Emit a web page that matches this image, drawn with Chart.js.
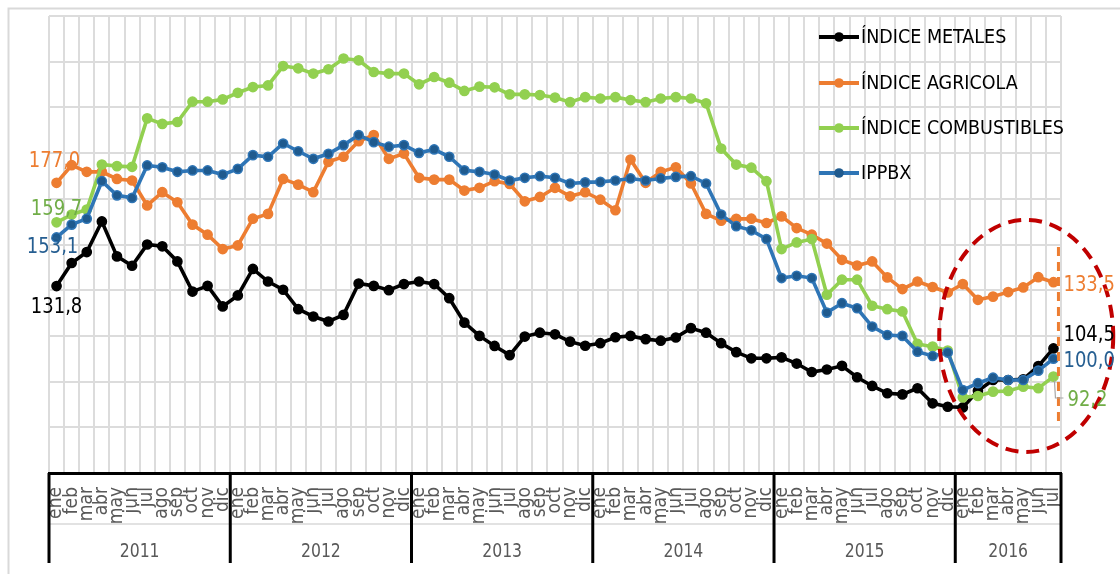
<!DOCTYPE html>
<html>
<head>
<meta charset="utf-8">
<script src="https://cdn.jsdelivr.net/npm/chart.js@4.4.1/dist/chart.umd.min.js"></script>
<style>
  html, body { margin: 0; padding: 0; background: #ffffff; }
  #wrap { width: 1120px; height: 574px; position: relative; }
</style>
</head>
<body>
<div id="wrap"><canvas id="c" width="1120" height="574"></canvas></div>
<script>
// ---------- DATA ----------
const months = [
  'ene','feb','mar','abr','may','jun','jul','ago','sep','oct','nov','dic',
  'ene','feb','mar','abr','may','jun','jul','ago','sep','oct','nov','dic',
  'ene','feb','mar','abr','may','jun','jul','ago','sep','oct','nov','dic',
  'ene','feb','mar','abr','may','jun','jul','ago','sep','oct','nov','dic',
  'ene','feb','mar','abr','may','jun','jul','ago','sep','oct','nov','dic',
  'ene','feb','mar','abr','may','jun','jul'
];
const years = ['2011','2012','2013','2014','2015','2016'];
const yearSpans = [12, 12, 12, 12, 12, 7];

const metales = [
  131.8,141.9,146.7,160.1,144.8,140.7,150.0,149.2,142.6,129.4,131.9,122.9,
  127.7,139.3,133.8,130.2,121.7,118.5,116.3,119.2,132.9,131.9,130.0,132.7,
  133.8,132.7,126.5,115.8,110.0,105.6,101.6,109.7,111.4,110.7,107.5,105.7,
  106.8,109.4,110.0,108.6,107.9,109.3,113.4,111.4,106.8,102.9,100.2,100.2,
  100.6,97.9,94.2,95.3,96.9,91.9,88.1,84.9,84.4,87.1,80.5,79.0,
  78.7,86.0,90.7,90.7,91.0,96.8,104.5
];
const agricola = [
  177.0,184.7,181.8,181.8,178.7,178.0,167.1,172.9,168.5,158.7,154.3,148.0,
  149.6,161.3,163.4,178.7,176.2,172.9,186.2,188.4,195.2,197.9,187.5,189.8,
  179.2,178.4,178.4,173.6,174.8,177.7,176.5,168.9,170.8,174.8,171.1,172.9,
  169.6,165.0,187.2,177.0,181.8,183.8,176.7,163.4,160.4,161.2,161.3,159.4,
  162.3,157.2,154.3,150.4,143.3,140.8,142.6,135.6,130.5,133.8,131.4,129.0,
  132.7,125.8,127.2,129.2,131.2,135.7,133.5
];
const combustibles = [
  159.7,163.1,165.3,185.0,184.3,184.0,205.2,202.8,203.6,212.5,212.5,213.5,
  216.4,218.9,219.6,228.1,227.1,224.8,226.7,231.4,230.6,225.5,224.8,224.8,
  220.1,223.3,220.8,217.2,219.1,218.8,215.7,215.7,215.4,214.3,212.3,214.5,
  213.9,214.5,213.2,212.3,213.9,214.5,213.9,211.8,192.0,185.0,183.6,177.7,
  148.0,150.9,152.4,128.0,134.6,134.6,123.2,121.7,120.7,106.5,105.3,103.6,
  83.1,83.7,85.6,85.9,87.8,87.1,92.2
];
const ippbx = [
  153.1,158.7,161.3,177.7,171.5,170.4,184.6,183.8,181.8,182.4,182.4,180.6,
  183.1,189.1,188.4,194.2,190.8,187.5,189.7,193.5,197.9,194.8,192.8,193.5,
  190.1,191.6,188.4,182.5,181.8,180.6,178.0,179.2,179.9,179.2,176.7,177.2,
  177.4,178.0,178.9,178.0,178.9,179.6,179.9,176.7,163.1,158.0,156.2,152.4,
  135.3,136.3,135.3,120.2,124.3,122.1,114.1,110.4,110.0,103.1,101.2,102.7,
  86.3,89.3,91.7,90.7,90.7,94.8,100.0
];
const seriesNames = ['ÍNDICE METALES', 'ÍNDICE AGRICOLA', 'ÍNDICE COMBUSTIBLES', 'IPPBX'];
const firstLabels = ['131,8', '177,0', '159,7', '153,1'];
const lastLabels  = ['104,5', '133,5', '92,2', '100,0'];
const yMin = 50, yMax = 250, yStep = 20;

// ---------- STYLE ----------
const FONT = '"DejaVu Sans Condensed", "DejaVu Sans", sans-serif';
const lineColors  = ['#000000', '#ED7D31', '#92D050', '#2E75B6'];
const pointFills  = ['#000000', '#ED7D31', '#92D050', '#1F5A8E'];
const labelColors = ['#000000', '#ED7D31', '#70AD47', '#255E91'];

const seriesData = [metales, agricola, combustibles, ippbx];

const datasets = seriesData.map((d, i) => ({
  label: seriesNames[i],
  data: d,
  borderColor: lineColors[i],
  backgroundColor: lineColors[i],
  pointBackgroundColor: pointFills[i],
  pointBorderColor: lineColors[i],
  pointBorderWidth: 1.5,
  pointRadius: 4.6,
  borderWidth: 3.6,
  tension: 0,
  fill: false,
  order: 4 - i
}));

function scaledText(ctx, text, x, y, sx, align) {
  ctx.save();
  ctx.translate(x, y);
  ctx.scale(sx, 1);
  ctx.textAlign = align;
  ctx.fillText(text, 0, 0);
  ctx.restore();
}

const deco = {
  id: 'deco',
  beforeDraw(chart) {
    const ctx = chart.ctx;
    ctx.save();
    ctx.fillStyle = '#ffffff';
    ctx.fillRect(0, 0, chart.width, chart.height);
    ctx.strokeStyle = '#D9D9D9';
    ctx.lineWidth = 2;
    ctx.strokeRect(8.5, 8.5, 2000, 2000);
    ctx.restore();
  },
  afterDatasetsDraw(chart) {
    const ctx = chart.ctx;
    const xs = chart.scales.x, ys = chart.scales.y;
    const area = chart.chartArea;
    const cw = xs.getPixelForValue(1) - xs.getPixelForValue(0);
    const n = months.length;
    ctx.save();

    // orange dashed vertical line
    ctx.strokeStyle = '#ED7D31';
    ctx.lineWidth = 3;
    ctx.setLineDash([9, 6]);
    const xo = xs.getPixelForValue(n - 1) + 5;
    ctx.beginPath();
    ctx.moveTo(xo, 247);
    ctx.lineTo(xo, 421);
    ctx.stroke();

    // red dashed ellipse
    ctx.strokeStyle = '#C00000';
    ctx.lineWidth = 4;
    ctx.setLineDash([13, 8]);
    ctx.beginPath();
    ctx.ellipse(xs.getPixelForValue(64) + 3, ys.getPixelForValue(110), 87, 116, 0, 0, Math.PI * 2);
    ctx.stroke();
    ctx.setLineDash([]);

    // gray leader line for last green label
    const lx = xs.getPixelForValue(n - 1);
    ctx.strokeStyle = '#A6A6A6';
    ctx.lineWidth = 1.2;
    ctx.beginPath();
    ctx.moveTo(lx + 1, ys.getPixelForValue(combustibles[n - 1]) + 4);
    ctx.lineTo(lx + 2, 398);
    ctx.lineTo(lx + 10, 398);
    ctx.stroke();

    // data labels
    ctx.font = '21.5px ' + FONT;
    ctx.textBaseline = 'middle';
    const x0 = xs.getPixelForValue(0);
    const firstOff = [[0, 21], [-2, -21], [0, -13], [-4, 10]];
    for (let i = 0; i < 4; i++) {
      ctx.fillStyle = labelColors[i];
      scaledText(ctx, firstLabels[i], x0 + firstOff[i][0], ys.getPixelForValue(seriesData[i][0]) + firstOff[i][1], 0.93, 'center');
    }
    const lastOff = [-13, 3, 24, 3];
    const lastDx = [10, 10, 14, 10];
    for (let i = 0; i < 4; i++) {
      ctx.fillStyle = labelColors[i];
      scaledText(ctx, lastLabels[i], lx + lastDx[i], ys.getPixelForValue(seriesData[i][n - 1]) + lastOff[i], 0.93, 'left');
    }

    // legend
    const legY = [37, 83, 128, 173];
    ctx.font = '19.5px ' + FONT;
    ctx.textAlign = 'left';
    ctx.textBaseline = 'middle';
    for (let i = 0; i < 4; i++) {
      ctx.strokeStyle = lineColors[i];
      ctx.lineWidth = 4;
      ctx.beginPath();
      ctx.moveTo(819, legY[i]);
      ctx.lineTo(859, legY[i]);
      ctx.stroke();
      ctx.fillStyle = pointFills[i];
      ctx.beginPath();
      ctx.arc(839, legY[i], 4.8, 0, Math.PI * 2);
      ctx.fill();
      ctx.fillStyle = '#000000';
      ctx.fillText(seriesNames[i], 861, legY[i] + 1);
    }

    // faint divider between month row and year row
    ctx.strokeStyle = '#D9D9D9';
    ctx.lineWidth = 1.5;
    ctx.beginPath();
    ctx.moveTo(area.left, 524);
    ctx.lineTo(area.right, 524);
    ctx.stroke();

    // year separators and labels
    ctx.strokeStyle = '#000000';
    ctx.lineWidth = 3;
    let start = 0;
    const yTop = area.bottom, yBot = 563;
    const boundary = (idx) => idx >= n ? area.right : xs.getPixelForValue(idx) - cw / 2;
    ctx.beginPath();
    ctx.moveTo(boundary(0), yTop);
    ctx.lineTo(boundary(0), yBot);
    ctx.stroke();
    ctx.font = '20px ' + FONT;
    ctx.fillStyle = '#595959';
    ctx.textBaseline = 'middle';
    for (let k = 0; k < years.length; k++) {
      const end = start + yearSpans[k];
      const bx = boundary(end);
      ctx.beginPath();
      ctx.moveTo(bx, yTop);
      ctx.lineTo(bx, yBot);
      ctx.stroke();
      const cx = (boundary(start) + bx) / 2;
      scaledText(ctx, years[k], cx, 552, 0.87, 'center');
      start = end;
    }
    ctx.restore();
  }
};

new Chart(document.getElementById('c'), {
  type: 'line',
  data: { labels: months, datasets },
  options: {
    responsive: false,
    animation: false,
    events: [],
    layout: { padding: { left: 49, right: 59, top: 16, bottom: 0 } },
    plugins: { legend: { display: false }, tooltip: { enabled: false }, title: { display: false } },
    scales: {
      x: {
        type: 'category',
        offset: true,
        grid: { color: '#DCDCDC', lineWidth: 2, drawTicks: false, offset: true },
        border: { color: '#000000', width: 3 },
        ticks: {
          autoSkip: false, maxRotation: 90, minRotation: 90, padding: 14,
          color: '#595959', font: { family: FONT, size: 19 }
        },
        afterFit(scale) { scale.height = 574 - 473; }
      },
      y: {
        min: yMin, max: yMax,
        ticks: { display: false, stepSize: yStep },
        grid: {
          color: (c) => (c.tick && c.tick.value === yMin) ? 'rgba(0,0,0,0)' : '#DCDCDC',
          lineWidth: 2, drawTicks: false
        },
        border: { display: false },
        afterFit(scale) { scale.width = 0; }
      }
    }
  },
  plugins: [deco]
});
</script>
</body>
</html>
